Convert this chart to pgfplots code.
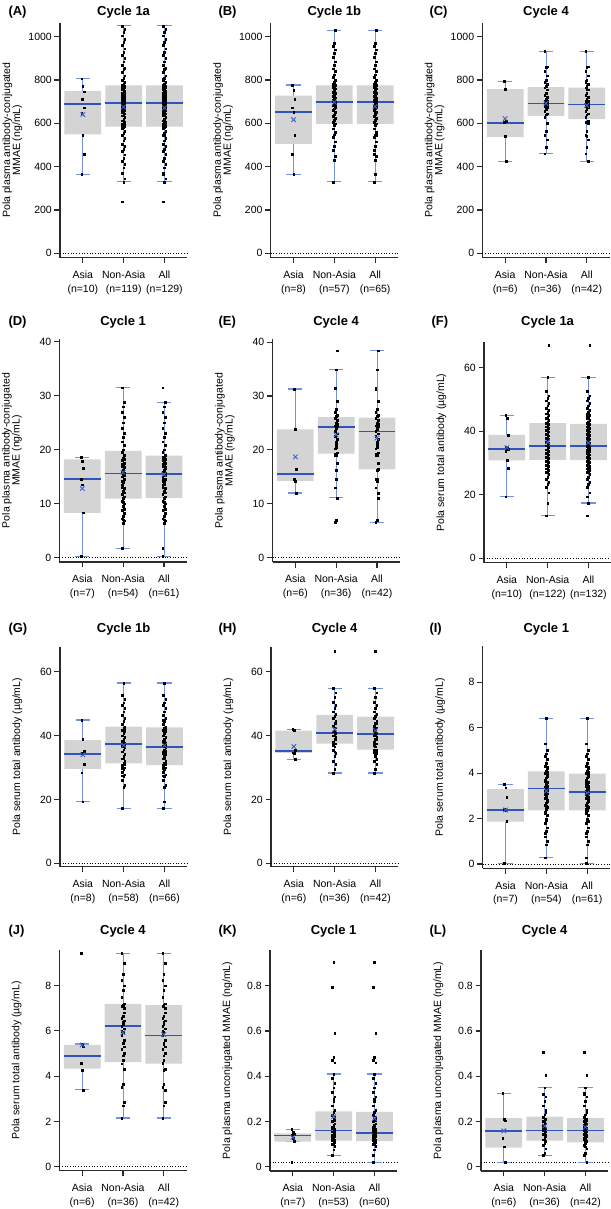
\documentclass[border=0pt]{standalone}
\usepackage{pgfplots}
\pgfplotsset{compat=1.18}
\usepackage{pgfplotstable}
\usepackage{fontspec}
\setmainfont{Liberation Sans}
\definecolor{boxgray}{HTML}{D4D4D4}
\definecolor{whisk}{HTML}{7592DC}
\definecolor{medblue}{HTML}{2F54BC}
\definecolor{meanblue}{HTML}{3F62C8}
\definecolor{axgray}{HTML}{2B2B2B}

% ---------------- data (one table per group) ----------------
\pgfplotstableread[row sep=\\]{y\\806\\772\\746\\711\\711\\672\\646\\546\\457\\365\\}\Aa
\pgfplotstableread[row sep=\\]{y\\238\\330\\345\\370\\395\\410\\425\\440\\455\\470\\480\\495\\505\\520\\530\\545\\555\\565\\575\\580\\585\\588\\590\\592\\595\\600\\605\\612\\620\\628\\635\\640\\645\\650\\655\\660\\663\\667\\670\\673\\676\\680\\683\\686\\689\\692\\695\\698\\700\\703\\706\\709\\712\\715\\718\\722\\726\\730\\734\\738\\742\\746\\750\\755\\760\\765\\768\\770\\772\\775\\780\\790\\800\\810\\820\\835\\850\\855\\870\\885\\900\\915\\930\\945\\960\\975\\990\\1005\\1020\\1035\\1050\\}\An
\pgfplotstableread[row sep=\\]{y\\777\\754\\712\\672\\651\\546\\457\\365\\}\Ba
\pgfplotstableread[row sep=\\]{y\\330\\430\\450\\475\\495\\515\\535\\548\\560\\575\\590\\598\\605\\615\\625\\632\\640\\650\\660\\668\\675\\682\\688\\694\\700\\700\\704\\708\\712\\718\\724\\730\\738\\745\\752\\760\\766\\770\\775\\782\\790\\800\\812\\825\\840\\852\\868\\885\\905\\925\\940\\955\\970\\1030\\765\\715\\690\\}\Bn
\pgfplotstableread[row sep=\\]{y\\793\\759\\610\\605\\540\\425\\}\Ca
\pgfplotstableread[row sep=\\]{y\\460\\490\\525\\545\\565\\600\\630\\640\\645\\655\\665\\675\\680\\685\\690\\692\\695\\700\\705\\710\\720\\730\\740\\755\\765\\770\\780\\790\\800\\820\\840\\860\\862\\932\\695\\702\\}\Cn
\pgfplotstableread[row sep=\\]{y\\18.6\\17.9\\16.6\\14.5\\13.5\\8.3\\0.2\\}\Da
\pgfplotstableread[row sep=\\]{y\\1.7\\6.4\\6.8\\7.2\\7.6\\8.2\\8.8\\9.5\\10.0\\10.5\\10.9\\11.3\\11.8\\12.3\\12.8\\13.4\\14.0\\14.5\\15.0\\15.3\\15.6\\15.9\\16.3\\16.7\\17.0\\17.1\\17.5\\18.0\\18.5\\19.0\\19.5\\20.0\\20.8\\21.5\\22.3\\23.0\\24.0\\25.0\\26.0\\27.0\\28.0\\28.8\\31.5\\10.2\\12.0\\14.2\\16.0\\9.0\\13.0\\11.0\\15.2\\17.3\\7.0\\18.3\\}\Dn
\pgfplotstableread[row sep=\\]{y\\31.3\\23.9\\16.4\\14.6\\14.2\\12.0\\}\Ea
\pgfplotstableread[row sep=\\]{y\\6.6\\7.0\\11.1\\13.0\\16.2\\17.5\\18.9\\19.0\\19.5\\20.2\\21.0\\22.0\\23.5\\24.0\\24.3\\24.5\\25.0\\25.5\\26.0\\26.2\\26.5\\27.0\\27.5\\29.0\\31.4\\34.9\\38.4\\22.5\\21.5\\24.8\\25.8\\20.5\\26.4\\19.3\\14.5\\23.0\\}\En
\pgfplotstableread[row sep=\\]{y\\45.0\\44.0\\38.8\\35.1\\34.6\\34.3\\33.6\\30.9\\28.3\\19.4\\}\Fa
\pgfplotstableread[row sep=\\]{y\\13.4\\17.4\\20.6\\22.3\\23.2\\24.0\\24.8\\25.6\\26.4\\27.0\\27.4\\27.8\\28.2\\28.6\\29.0\\29.4\\29.8\\30.2\\30.6\\31.0\\31.4\\31.8\\32.2\\32.6\\33.0\\33.4\\33.8\\34.2\\34.6\\35.0\\35.4\\35.8\\36.2\\36.6\\37.0\\37.4\\37.8\\38.2\\38.6\\39.0\\39.4\\39.8\\40.2\\40.6\\41.0\\41.4\\41.8\\42.2\\42.6\\43.0\\43.5\\44.0\\44.5\\45.0\\45.5\\46.0\\46.6\\47.3\\48.0\\48.8\\49.6\\50.4\\51.2\\52.6\\57.0\\67.0\\}\Fn
\pgfplotstableread[row sep=\\]{y\\44.9\\38.8\\35.2\\34.6\\34.0\\31.0\\28.4\\19.3\\}\Ga
\pgfplotstableread[row sep=\\]{y\\17.3\\23.8\\24.5\\26.0\\27.3\\27.8\\28.5\\29.3\\30.0\\30.8\\31.3\\32.0\\32.8\\33.5\\34.2\\35.0\\35.6\\36.2\\36.8\\37.3\\37.8\\38.3\\38.9\\39.5\\40.0\\40.6\\41.2\\41.8\\42.3\\42.8\\43.5\\44.5\\45.5\\46.5\\47.5\\48.5\\49.5\\50.3\\51.5\\52.6\\56.5\\37.0\\36.5\\33.0\\31.0\\29.8\\41.0\\42.0\\27.5\\38.0\\}\Gn
\pgfplotstableread[row sep=\\]{y\\42.0\\41.8\\35.5\\34.7\\34.6\\32.6\\}\Ha
\pgfplotstableread[row sep=\\]{y\\28.3\\29.5\\31.0\\32.0\\33.5\\34.5\\35.5\\36.5\\37.5\\38.0\\38.8\\39.5\\40.0\\40.5\\40.8\\41.2\\41.8\\42.5\\43.0\\43.8\\44.5\\45.5\\46.2\\46.8\\47.5\\48.5\\49.5\\50.5\\52.0\\53.5\\54.9\\66.5\\39.0\\37.0\\35.0\\44.0\\}\Hn
\pgfplotstableread[row sep=\\]{y\\3.5\\3.36\\2.94\\2.41\\2.36\\1.88\\0.03\\}\Ia
\pgfplotstableread[row sep=\\]{y\\0.28\\0.85\\1.0\\1.2\\1.45\\1.6\\1.8\\2.0\\2.15\\2.3\\2.4\\2.5\\2.6\\2.7\\2.8\\2.9\\3.0\\3.1\\3.2\\3.3\\3.35\\3.4\\3.5\\3.6\\3.7\\3.8\\3.9\\4.0\\4.1\\4.2\\4.3\\4.45\\4.6\\4.75\\4.85\\5.0\\5.3\\6.42\\3.25\\3.15\\2.55\\3.45\\2.25\\1.9\\4.05\\3.65\\2.95\\2.75\\3.05\\3.55\\4.25\\1.35\\2.45\\3.85\\}\In
\pgfplotstableread[row sep=\\]{y\\9.43\\5.42\\5.30\\4.57\\4.27\\3.39\\}\Ja
\pgfplotstableread[row sep=\\]{y\\2.15\\2.7\\2.85\\3.5\\3.65\\4.3\\4.55\\4.7\\5.0\\5.2\\5.45\\5.6\\5.8\\5.95\\6.1\\6.22\\6.3\\6.45\\6.55\\6.65\\6.8\\7.1\\7.15\\7.2\\7.5\\7.8\\8.0\\8.25\\8.5\\9.0\\9.43\\4.9\\5.3\\6.0\\6.4\\7.0\\}\Jn
\pgfplotstableread[row sep=\\]{y\\0.166\\0.152\\0.145\\0.138\\0.125\\0.113\\0.02\\}\Ka
\pgfplotstableread[row sep=\\]{y\\0.05\\0.075\\0.09\\0.1\\0.105\\0.11\\0.115\\0.118\\0.12\\0.125\\0.13\\0.135\\0.14\\0.145\\0.15\\0.155\\0.16\\0.165\\0.17\\0.18\\0.19\\0.2\\0.21\\0.22\\0.23\\0.24\\0.25\\0.27\\0.29\\0.31\\0.33\\0.35\\0.37\\0.39\\0.41\\0.46\\0.47\\0.485\\0.59\\0.795\\0.905\\0.112\\0.122\\0.128\\0.138\\0.142\\0.148\\0.162\\0.175\\0.185\\0.205\\0.225\\0.3\\}\Kn
\pgfplotstableread[row sep=\\]{y\\0.324\\0.210\\0.203\\0.125\\0.088\\0.02\\}\La
\pgfplotstableread[row sep=\\]{y\\0.05\\0.06\\0.08\\0.095\\0.105\\0.112\\0.12\\0.13\\0.14\\0.145\\0.15\\0.155\\0.16\\0.165\\0.17\\0.175\\0.18\\0.19\\0.2\\0.205\\0.21\\0.22\\0.23\\0.25\\0.27\\0.29\\0.31\\0.32\\0.35\\0.405\\0.505\\0.118\\0.135\\0.185\\0.195\\0.24\\}\Ln

\pgfplotsset{
  panel/.style={
    scale only axis, width=127.3bp, xmin=-0.56, xmax=2.56,
    anchor=south west, clip=false,
    axis x line*=bottom, axis y line*=left,
    axis line style={draw=axgray, line width=1.4bp},
    tick style={draw=axgray, line width=1.1bp},
    tick align=outside, major tick length=5.5bp,
    xtick={0,1,2},
    xticklabel style={align=center, font=\fontsize{10.5bp}{13.5bp}\selectfont, inner sep=1bp, yshift=-6.5bp},
    yticklabel style={font=\fontsize{10.5bp}{12bp}\selectfont, inner sep=2.5bp},
    /pgf/number format/assume math mode=true,
    /pgf/number format/1000 sep={},
    ylabel style={at={(axis description cs:-0.295,0.5)}, anchor=south, inner sep=0pt,
      align=center, font=\fontsize{10.5bp}{10bp}\selectfont},
  },
}
% box: {left}{right}{q1}{q3}
\newcommand{\bxcore}[4]{%
  \addplot[fill=boxgray, draw=none] coordinates {(#1,#3) (#2,#3) (#2,#4) (#1,#4) (#1,#3)};
}
% median: {left}{right}{median}
\newcommand{\mdcore}[3]{%
  \addplot[draw=medblue, line width=1.8bp] coordinates {(#1,#3) (#2,#3)};
}
% whiskers: {capleft}{centre}{capright}{lw}{q1}{q3}{hw}
\newcommand{\whcore}[7]{%
  \addplot[draw=whisk, line width=0.9bp] coordinates {(#2,#4) (#2,#5)};
  \addplot[draw=whisk, line width=0.9bp] coordinates {(#2,#6) (#2,#7)};
  \addplot[draw=whisk, line width=1.1bp] coordinates {(#1,#4) (#3,#4)};
  \addplot[draw=whisk, line width=1.1bp] coordinates {(#1,#7) (#3,#7)};
}
% groups: {lw}{q1}{q3}{hw}
\newcommand{\gA}[4]{\whcore{-0.175}{0}{0.175}{#1}{#2}{#3}{#4}\bxcore{-0.45}{0.45}{#2}{#3}}
\newcommand{\gN}[4]{\whcore{0.825}{1}{1.175}{#1}{#2}{#3}{#4}\bxcore{0.55}{1.45}{#2}{#3}}
\newcommand{\gL}[4]{\whcore{1.825}{2}{2.175}{#1}{#2}{#3}{#4}\bxcore{1.55}{2.45}{#2}{#3}}
% medians of the three groups
\newcommand{\meds}[3]{\mdcore{-0.45}{0.45}{#1}\mdcore{0.55}{1.45}{#2}\mdcore{1.55}{2.45}{#3}}
\newcommand{\pts}[2]{%
  \addplot[only marks, mark=square*, mark size=0.85bp, draw=none, fill=black]
    table[x expr={#1+0.028*(mod(\coordindex,3)-1)}, y=y] {#2};
}
\newcommand{\mn}[2]{%
  \addplot[only marks, mark=x, mark size=3.2bp, draw=meanblue, line width=0.9bp] coordinates {(#1,#2)};
}
\newcommand{\zl}[1]{%
  \addplot[black, dotted, line width=0.7bp] coordinates {(-0.56,#1) (2.56,#1)};
}
\newcommand{\ttl}[3]{\node[font=\fontsize{13bp}{15bp}\selectfont\bfseries] at (#1bp,#2bp) {#3};}
\newcommand{\lbl}[3]{\node[anchor=west, font=\fontsize{13bp}{15bp}\selectfont\bfseries] at (#1bp,#2bp) {#3};}

\begin{document}
\begin{tikzpicture}
\useasboundingbox (0bp,0bp) rectangle (611bp,-1209bp);

% ---------------- (A) ----------------
\begin{axis}[panel, at={(60bp,-257.7bp)}, height=235.1bp, ymin=-20, ymax=1065,
  ytick={0,200,400,600,800,1000},
  xticklabels={{Asia\\(n=10)},{Non-Asia\\(n=119)},{All\\(n=129)}},
  ylabel={Pola plasma antibody-conjugated\\MMAE (ng/mL)}]
\zl{0}
\gA{365}{549}{749}{806}
\gN{330}{585}{775}{1050}
\gL{330}{585}{775}{1050}
\pts{0}{\Aa}\pts{1}{\An}\pts{2}{\Aa}\pts{2}{\An}
\meds{691}{695}{695}
\mn{0}{641}\mn{1}{675}\mn{2}{672}
\end{axis}
% ---------------- (B) ----------------
\begin{axis}[panel, at={(270.7bp,-257.7bp)}, height=235.1bp, ymin=-20, ymax=1065,
  ytick={0,200,400,600,800,1000},
  xticklabels={{Asia\\(n=8)},{Non-Asia\\(n=57)},{All\\(n=65)}},
  ylabel={Pola plasma antibody-conjugated\\MMAE (ng/mL)}]
\zl{0}
\gA{365}{505}{728}{777}
\gN{330}{598}{775}{1030}
\gL{330}{598}{775}{1030}
\pts{0}{\Ba}\pts{1}{\Bn}\pts{2}{\Ba}\pts{2}{\Bn}
\meds{652}{700}{700}
\mn{0}{617}\mn{1}{697}\mn{2}{677}
\end{axis}
% ---------------- (C) ----------------
\begin{axis}[panel, at={(482.3bp,-257.7bp)}, height=235.1bp, ymin=-20, ymax=1065,
  ytick={0,200,400,600,800,1000},
  xticklabels={{Asia\\(n=6)},{Non-Asia\\(n=36)},{All\\(n=42)}},
  ylabel={Pola plasma antibody-conjugated\\MMAE (ng/mL)}]
\zl{0}
\gA{425}{537}{758}{795}
\gN{460}{635}{767}{932}
\gL{425}{620}{765}{932}
\pts{0}{\Ca}\pts{1}{\Cn}\pts{2}{\Ca}\pts{2}{\Cn}
\meds{603}{692}{687}
\mn{0}{622}\mn{1}{692}\mn{2}{683}
\end{axis}
% ---------------- (D) ----------------
\begin{axis}[panel, at={(59.5bp,-561.8bp)}, height=222.6bp, ymin=-0.8, ymax=40.5,
  ytick={0,10,20,30,40},
  xticklabels={{Asia\\(n=7)},{Non-Asia\\(n=54)},{All\\(n=61)}},
  ylabel={Pola plasma antibody-conjugated\\MMAE (ng/mL)}]
\zl{0}
\gA{0.2}{8.3}{18.2}{18.6}
\gN{1.7}{10.9}{19.8}{31.5}
\gL{0.2}{11.0}{18.9}{28.8}
\pts{0}{\Da}\pts{1}{\Dn}\pts{2}{\Da}\pts{2}{\Dn}
\meds{14.5}{15.6}{15.5}
\mn{0}{12.8}\mn{1}{15.8}\mn{2}{15.4}
\end{axis}
% ---------------- (E) ----------------
\begin{axis}[panel, at={(272.5bp,-562bp)}, height=222.6bp, ymin=-0.8, ymax=40.5,
  ytick={0,10,20,30,40},
  xticklabels={{Asia\\(n=6)},{Non-Asia\\(n=36)},{All\\(n=42)}},
  ylabel={Pola plasma antibody-conjugated\\MMAE (ng/mL)}]
\zl{0}
\gA{12.0}{14.2}{23.8}{31.3}
\gN{11.1}{19.3}{26.1}{34.9}
\gL{6.6}{16.4}{26.0}{38.4}
\pts{0}{\Ea}\pts{1}{\En}\pts{2}{\Ea}\pts{2}{\En}
\meds{15.5}{24.3}{23.4}
\mn{0}{18.7}\mn{1}{22.8}\mn{2}{22.2}
\end{axis}
% ---------------- (F) ----------------
\begin{axis}[panel, at={(484bp,-562.7bp)}, height=220.5bp, ymin=-1.4, ymax=68,
  ytick={0,20,40,60},
  xticklabels={{Asia\\(n=10)},{Non-Asia\\(n=122)},{All\\(n=132)}},
  ylabel={Pola serum total antibody (µg/mL)}]
\zl{0}
\gA{19.4}{30.8}{38.8}{45.0}
\gN{13.4}{31.0}{42.5}{57.0}
\gL{17.4}{30.9}{42.3}{57.0}
\pts{0}{\Fa}\pts{1}{\Fn}\pts{2}{\Fa}\pts{2}{\Fn}
\meds{34.4}{35.4}{35.4}
\mn{0}{34.8}\mn{1}{36.6}\mn{2}{36.4}
\end{axis}
% ---------------- (G) ----------------
\begin{axis}[panel, at={(60bp,-866.7bp)}, height=219.8bp, ymin=-1.05, ymax=67.8,
  ytick={0,20,40,60},
  xticklabels={{Asia\\(n=8)},{Non-Asia\\(n=58)},{All\\(n=66)}},
  ylabel={Pola serum total antibody (µg/mL)}]
\zl{0}
\gA{19.3}{29.6}{38.6}{44.9}
\gN{17.3}{31.3}{42.8}{56.5}
\gL{17.3}{30.8}{42.6}{56.5}
\pts{0}{\Ga}\pts{1}{\Gn}\pts{2}{\Ga}\pts{2}{\Gn}
\meds{34.3}{37.3}{36.4}
\mn{0}{34.0}\mn{1}{37.0}\mn{2}{36.9}
\end{axis}
% ---------------- (H) ----------------
\begin{axis}[panel, at={(271bp,-866.7bp)}, height=219.8bp, ymin=-1.05, ymax=67.8,
  ytick={0,20,40,60},
  xticklabels={{Asia\\(n=6)},{Non-Asia\\(n=36)},{All\\(n=42)}},
  ylabel={Pola serum total antibody (µg/mL)}]
\zl{0}
\gA{32.6}{34.6}{41.6}{42.0}
\gN{28.3}{37.5}{46.5}{54.9}
\gL{28.3}{35.6}{46.0}{54.9}
\pts{0}{\Ha}\pts{1}{\Hn}\pts{2}{\Ha}\pts{2}{\Hn}
\meds{35.1}{40.8}{40.5}
\mn{0}{36.6}\mn{1}{42.0}\mn{2}{41.6}
\end{axis}
% ---------------- (I) ----------------
\begin{axis}[panel, at={(482.7bp,-868.3bp)}, height=221.9bp, ymin=-0.19, ymax=9.58,
  ytick={0,2,4,6,8},
  xticklabels={{Asia\\(n=7)},{Non-Asia\\(n=54)},{All\\(n=61)}},
  ylabel={Pola serum total antibody (µg/mL)}]
\zl{0}
\gA{0.03}{1.86}{3.3}{3.5}
\gN{0.28}{2.36}{4.08}{6.42}
\gL{0.03}{2.36}{3.98}{6.42}
\pts{0}{\Ia}\pts{1}{\In}\pts{2}{\Ia}\pts{2}{\In}
\meds{2.38}{3.32}{3.16}
\mn{0}{2.38}\mn{1}{3.22}\mn{2}{3.13}
\end{axis}
% ---------------- (J) ----------------
\begin{axis}[panel, at={(59.3bp,-1170.7bp)}, height=220.8bp, ymin=-0.18, ymax=9.58,
  ytick={0,2,4,6,8},
  xticklabels={{Asia\\(n=6)},{Non-Asia\\(n=36)},{All\\(n=42)}},
  ylabel={Pola serum total antibody (µg/mL)}]
\zl{0}
\gA{3.39}{4.33}{5.38}{5.42}
\gN{2.15}{4.62}{7.2}{9.43}
\gL{2.15}{4.55}{7.14}{9.43}
\pts{0}{\Ja}\pts{1}{\Jn}\pts{2}{\Ja}\pts{2}{\Jn}
\meds{4.88}{6.22}{5.8}
\mn{0}{5.38}\mn{1}{5.92}\mn{2}{5.84}
\end{axis}
% ---------------- (K) ----------------
\begin{axis}[panel, at={(270bp,-1170.8bp)}, height=220.8bp, ymin=-0.018, ymax=0.958,
  ytick={0,0.2,0.4,0.6,0.8},
  xticklabels={{Asia\\(n=7)},{Non-Asia\\(n=53)},{All\\(n=60)}},
  ylabel={Pola plasma unconjugated MMAE (ng/mL)}]
\zl{0.02}
\gA{0.113}{0.111}{0.148}{0.166}
\gN{0.05}{0.115}{0.245}{0.41}
\gL{0.02}{0.113}{0.243}{0.41}
\pts{0}{\Ka}\pts{1}{\Kn}\pts{2}{\Ka}\pts{2}{\Kn}
\meds{0.138}{0.16}{0.148}
\mn{0}{0.13}\mn{1}{0.222}\mn{2}{0.213}
\end{axis}
% ---------------- (L) ----------------
\begin{axis}[panel, at={(481bp,-1170.8bp)}, height=220.8bp, ymin=-0.018, ymax=0.958,
  ytick={0,0.2,0.4,0.6,0.8},
  xticklabels={{Asia\\(n=6)},{Non-Asia\\(n=36)},{All\\(n=42)}},
  ylabel={Pola plasma unconjugated MMAE (ng/mL)}]
\zl{0.02}
\gA{0.02}{0.085}{0.215}{0.324}
\gN{0.05}{0.115}{0.222}{0.35}
\gL{0.02}{0.108}{0.215}{0.352}
\pts{0}{\La}\pts{1}{\Ln}\pts{2}{\La}\pts{2}{\Ln}
\meds{0.159}{0.16}{0.16}
\mn{0}{0.159}\mn{1}{0.18}\mn{2}{0.175}
\end{axis}

% titles and panel letters
\ttl{123.6}{-12}{Cycle 1a}\ttl{334.3}{-12}{Cycle 1b}\ttl{546}{-12}{Cycle 4}
\ttl{123.1}{-322}{Cycle 1}\ttl{336.1}{-322.5}{Cycle 4}\ttl{547.6}{-322}{Cycle 1a}
\ttl{123.6}{-629.5}{Cycle 1b}\ttl{334.6}{-629.5}{Cycle 4}\ttl{546.3}{-629.5}{Cycle 1}
\ttl{122.9}{-931}{Cycle 4}\ttl{333.6}{-931}{Cycle 1}\ttl{544.6}{-931}{Cycle 4}
\lbl{5}{-12}{(A)}\lbl{215}{-12}{(B)}\lbl{426}{-12}{(C)}
\lbl{5}{-322}{(D)}\lbl{215}{-322.5}{(E)}\lbl{428}{-322}{(F)}
\lbl{5}{-629.5}{(G)}\lbl{215}{-629.5}{(H)}\lbl{426}{-629.5}{(I)}
\lbl{5}{-931}{(J)}\lbl{215}{-931}{(K)}\lbl{426}{-931}{(L)}
\end{tikzpicture}
\end{document}
